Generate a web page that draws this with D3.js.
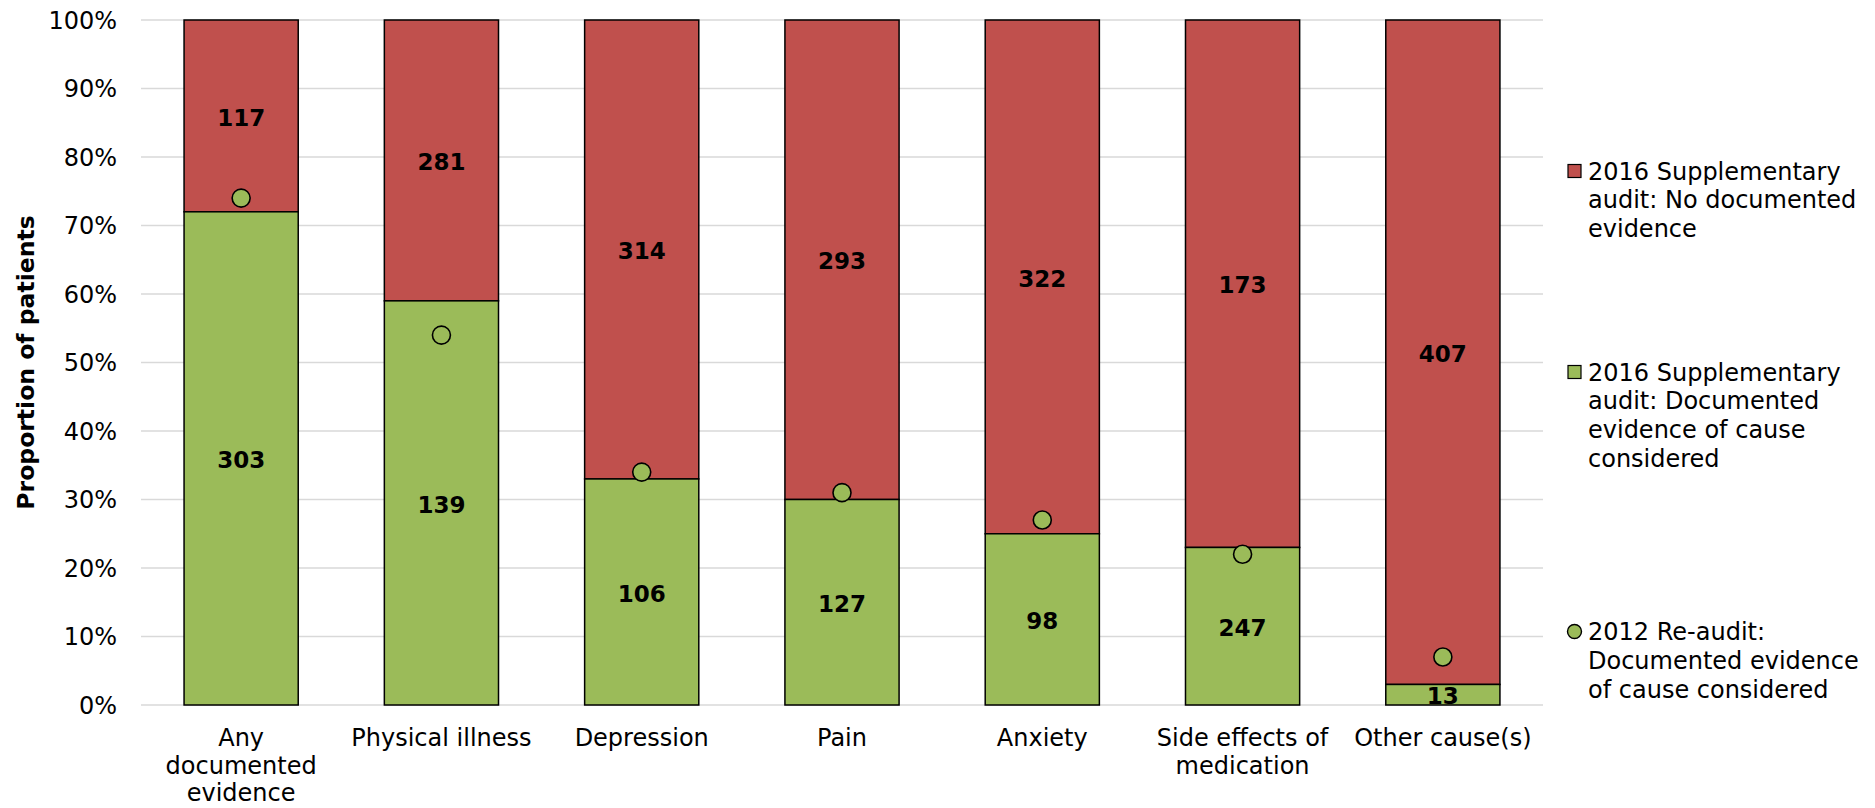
<!DOCTYPE html>
<html>
<head>
<meta charset="utf-8">
<script src="https://cdn.jsdelivr.net/npm/d3@7"></script>
<style>
  body { margin: 0; background: #fff; }
  svg { display: block; font-family: "DejaVu Sans", Verdana, sans-serif; }
</style>
</head>
<body>
<div class="chart"></div>
<script>
// categories (line breaks as in the original axis labels)
const categories = [
  "Any\ndocumented\nevidence",
  "Physical illness",
  "Depression",
  "Pain",
  "Anxiety",
  "Side effects of\nmedication",
  "Other cause(s)"
];

// 2016 supplementary audit: share with documented evidence (%)
const documentedPct = [72, 59, 33, 30, 25, 23, 3];
// counts printed on the bars
const documentedN = [303, 139, 106, 127, 98, 247, 13];
const notDocumentedN = [117, 281, 314, 293, 322, 173, 407];
// 2012 re-audit (%)
const reaudit2012 = [74, 54, 34, 31, 27, 22, 7];

const yTicks = [0, 10, 20, 30, 40, 50, 60, 70, 80, 90, 100];

const legendItems = [
  { lines: ["2016 Supplementary", "audit: No documented", "evidence"], kind: "rect", color: "#C0504D" },
  { lines: ["2016 Supplementary", "audit: Documented", "evidence of cause", "considered"], kind: "rect", color: "#9BBB59" },
  { lines: ["2012 Re-audit:", "Documented evidence", "of cause considered"], kind: "circle", color: "#9BBB59" }
];

const width = 1875, height = 808;
const red = "#C0504D", green = "#9BBB59";

const svg = d3.select(".chart").append("svg")
  .attr("width", width)
  .attr("height", height);

const x = d3.scaleBand()
  .domain(categories)
  .range([141, 1543])
  .paddingInner(0.43)
  .paddingOuter(0.215);

const y = d3.scaleLinear()
  .domain([0, 100])
  .range([705, 20]);

// gridlines
svg.append("g")
  .selectAll("line")
  .data(yTicks)
  .enter().append("line")
  .attr("x1", 141)
  .attr("x2", 1543)
  .attr("y1", d => y(d))
  .attr("y2", d => y(d))
  .attr("stroke", "#d9d9d9")
  .attr("stroke-width", 1.5);

// y tick labels
svg.append("g")
  .selectAll("text")
  .data(yTicks)
  .enter().append("text")
  .attr("x", 117)
  .attr("y", d => y(d))
  .attr("dy", "0.36em")
  .attr("text-anchor", "end")
  .attr("font-size", 24)
  .attr("fill", "#000")
  .text(d => d + "%");

// y axis title
svg.append("text")
  .attr("transform", "translate(34," + y(50) + ") rotate(-90)")
  .attr("text-anchor", "middle")
  .attr("font-size", 23.5)
  .attr("font-weight", "bold")
  .text("Proportion of patients");

const bars = svg.append("g");

// red (no documented evidence) part
bars.selectAll("rect.red")
  .data(categories)
  .enter().append("rect")
  .attr("class", "red")
  .attr("x", d => x(d))
  .attr("width", x.bandwidth())
  .attr("y", y(100))
  .attr("height", (d, i) => y(documentedPct[i]) - y(100))
  .attr("fill", red)
  .attr("stroke", "#000")
  .attr("stroke-width", 1.5);

// green (documented) part
bars.selectAll("rect.green")
  .data(categories)
  .enter().append("rect")
  .attr("class", "green")
  .attr("x", d => x(d))
  .attr("width", x.bandwidth())
  .attr("y", (d, i) => y(documentedPct[i]))
  .attr("height", (d, i) => y(0) - y(documentedPct[i]))
  .attr("fill", green)
  .attr("stroke", "#000")
  .attr("stroke-width", 1.5);

// data labels
bars.selectAll("text.redlab")
  .data(categories)
  .enter().append("text")
  .attr("x", d => x(d) + x.bandwidth() / 2)
  .attr("y", (d, i) => (y(100) + y(documentedPct[i])) / 2)
  .attr("dy", "0.42em")
  .attr("text-anchor", "middle")
  .attr("font-size", 23)
  .attr("font-weight", "bold")
  .text((d, i) => notDocumentedN[i]);

bars.selectAll("text.greenlab")
  .data(categories)
  .enter().append("text")
  .attr("x", d => x(d) + x.bandwidth() / 2)
  .attr("y", (d, i) => (y(0) + y(documentedPct[i])) / 2)
  .attr("dy", "0.42em")
  .attr("text-anchor", "middle")
  .attr("font-size", 23)
  .attr("font-weight", "bold")
  .text((d, i) => documentedN[i]);

// 2012 markers
svg.append("g")
  .selectAll("circle")
  .data(categories)
  .enter().append("circle")
  .attr("cx", d => x(d) + x.bandwidth() / 2)
  .attr("cy", (d, i) => y(reaudit2012[i]))
  .attr("r", 9)
  .attr("fill", green)
  .attr("stroke", "#000")
  .attr("stroke-width", 1.6);

// x labels
const xl = svg.append("g")
  .selectAll("text")
  .data(categories)
  .enter().append("text")
  .attr("x", d => x(d) + x.bandwidth() / 2)
  .attr("y", 746)
  .attr("text-anchor", "middle")
  .attr("font-size", 24);

xl.selectAll("tspan")
  .data(d => d.split("\n"))
  .enter().append("tspan")
  .attr("x", function () { return d3.select(this.parentNode).attr("x"); })
  .attr("dy", (d, i) => i === 0 ? 0 : 27.5)
  .text(d => d);

// legend
const legendTop = [171, 372, 631.5];
const lg = svg.append("g");
legendItems.forEach((item, k) => {
  const g = lg.append("g").attr("transform", "translate(0," + legendTop[k] + ")");
  if (item.kind === "rect") {
    g.append("rect")
      .attr("x", 1568).attr("y", -6.5)
      .attr("width", 13).attr("height", 13)
      .attr("fill", item.color)
      .attr("stroke", "#000").attr("stroke-width", 1.2);
  } else {
    g.append("circle")
      .attr("cx", 1574.5).attr("cy", 0)
      .attr("r", 7)
      .attr("fill", item.color)
      .attr("stroke", "#000").attr("stroke-width", 1.4);
  }
  g.selectAll("text")
    .data(item.lines)
    .enter().append("text")
    .attr("x", 1588)
    .attr("y", (d, i) => i * 28.7)
    .attr("dy", "0.36em")
    .attr("font-size", 24)
    .text(d => d);
});
</script>
</body>
</html>
